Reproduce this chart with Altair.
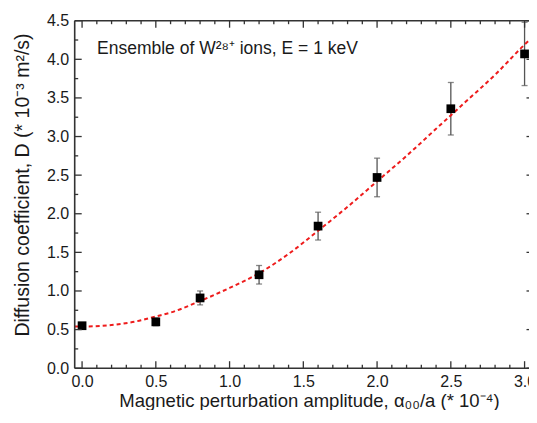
import altair as alt
import pandas as pd

# measured data
alpha = [0.0, 0.5, 0.8, 1.2, 1.6, 2.0, 2.5, 3.0]
diff = [0.55, 0.60, 0.91, 1.21, 1.84, 2.47, 3.36, 4.07]
err = [0.04, 0.05, 0.09, 0.12, 0.18, 0.25, 0.34, 0.41]

# fitted curve
fit_x = [-0.05, 0.0, 0.2, 0.4, 0.5, 0.6, 0.8, 1.0, 1.2, 1.4, 1.6, 1.8, 2.0, 2.2, 2.4, 2.6, 2.8, 3.0, 3.05]
fit_y = [0.54, 0.54, 0.56, 0.62, 0.67, 0.72, 0.87, 1.04, 1.23, 1.48, 1.78, 2.09, 2.42, 2.75, 3.10, 3.45, 3.80, 4.19, 4.28]

# tick values
x_major = [0.0, 0.5, 1.0, 1.5, 2.0, 2.5, 3.0]
x_minor = [0.1, 0.2, 0.3, 0.4, 0.6, 0.7, 0.8, 0.9, 1.1, 1.2, 1.3, 1.4, 1.6, 1.7, 1.8, 1.9,
           2.1, 2.2, 2.3, 2.4, 2.6, 2.7, 2.8, 2.9]
y_major = [0.0, 0.5, 1.0, 1.5, 2.0, 2.5, 3.0, 3.5, 4.0, 4.5]
y_minor = [0.25, 0.75, 1.25, 1.75, 2.25, 2.75, 3.25, 3.75, 4.25]

x_title = "Magnetic perturbation amplitude, α₀₀/a (* 10⁻⁴)"
y_title = "Diffusion coefficient, D (* 10⁻³ m²/s)"
annot = "Ensemble of W²⁸⁺ ions, E = 1 keV"

W, H = 454.3, 347.5
FONT = "Arial, Liberation Sans, sans-serif"
FRAME = "#333333"

xs = alt.Scale(domain=[-0.05, 3.03], nice=False, zero=False)
ys = alt.Scale(domain=[0, 4.5], nice=False, zero=False)

pts = pd.DataFrame({"a": alpha, "d": diff, "lo": [d - e for d, e in zip(diff, err)],
                    "hi": [d + e for d, e in zip(diff, err)]})
fit = pd.DataFrame({"a": fit_x, "d": fit_y})
xM = pd.DataFrame({"a": x_major})
xm = pd.DataFrame({"a": x_minor})
yM = pd.DataFrame({"d": y_major})
ym = pd.DataFrame({"d": y_minor})
one = pd.DataFrame({"k": [0]})

x_axis = alt.Axis(values=x_major, format=".1f", ticks=False, tickSize=0, domain=False, grid=False,
                  labelFontSize=16, labelPadding=5, labelColor="#1a1a1a", labelFont=FONT,
                  title=x_title, titleFont=FONT, titleFontSize=18.5, titleFontWeight="normal",
                  titleColor="#1a1a1a", titleX=234.3, titleY=38, titleAlign="center",
                  titleBaseline="alphabetic")
y_axis = alt.Axis(values=y_major, format=".1f", ticks=False, tickSize=0, domain=False, grid=False,
                  labelFontSize=16, labelPadding=6, labelColor="#1a1a1a", labelFont=FONT,
                  title=y_title, titleFont=FONT, titleFontSize=19.5, titleFontWeight="normal",
                  titleColor="#1a1a1a", titleX=-51.7, titleY=163.8, titleAngle=270,
                  titleAlign="center", titleBaseline="middle")

X = lambda f: alt.X(f, scale=xs, axis=x_axis)
Y = lambda f: alt.Y(f, scale=ys, axis=y_axis)

base_err = alt.Chart(pts).mark_rule(color="#555555", strokeWidth=1.3).encode(
    x=X("a:Q"), y=Y("lo:Q"), y2="hi:Q")
caps_lo = alt.Chart(pts).mark_tick(color="#555555", thickness=1.3, size=6, orient="horizontal").encode(
    x=X("a:Q"), y=Y("lo:Q"))
caps_hi = alt.Chart(pts).mark_tick(color="#555555", thickness=1.3, size=6, orient="horizontal").encode(
    x=X("a:Q"), y=Y("hi:Q"))

line = alt.Chart(fit).mark_line(color="#ee1c1c", strokeWidth=2, strokeDash=[4, 3],
                                interpolate="monotone", clip=True).encode(
    x=X("a:Q"), y=Y("d:Q"))

squares = alt.Chart(pts).mark_square(color="black", opacity=1, size=76, filled=True).encode(
    x=X("a:Q"), y=Y("d:Q"))


def xticks(df, length, top):
    if top:
        return alt.Chart(df).mark_rule(color=FRAME, strokeWidth=1.3).encode(
            x=X("a:Q"), y=alt.value(0), y2=alt.value(length))
    return alt.Chart(df).mark_rule(color=FRAME, strokeWidth=1.3).encode(
        x=X("a:Q"), y=alt.value(H), y2=alt.value(H - length))


def yticks(df, length, right):
    if right:
        return alt.Chart(df).mark_rule(color=FRAME, strokeWidth=1.3).encode(
            y=Y("d:Q"), x=alt.value(W), x2=alt.value(W - length))
    return alt.Chart(df).mark_rule(color=FRAME, strokeWidth=1.3).encode(
        y=Y("d:Q"), x=alt.value(0), x2=alt.value(length))


ticks = [xticks(xM, 7, False), xticks(xm, 3.5, False), xticks(xM, 7, True), xticks(xm, 3.5, True),
         yticks(yM, 7, False), yticks(ym, 3.5, False), yticks(yM, 2.5, True)]

frame = [
    alt.Chart(one).mark_rule(color=FRAME, strokeWidth=1.6).encode(
        x=alt.value(0), x2=alt.value(W), y=alt.value(0)),
    alt.Chart(one).mark_rule(color=FRAME, strokeWidth=1.6).encode(
        x=alt.value(0), x2=alt.value(W), y=alt.value(H)),
    alt.Chart(one).mark_rule(color=FRAME, strokeWidth=1.6).encode(
        x=alt.value(0), y=alt.value(0), y2=alt.value(H)),
]

label = alt.Chart(pd.DataFrame({"t": [annot]})).mark_text(
    align="left", baseline="alphabetic", fontSize=17.5, font=FONT, color="#1a1a1a").encode(
    x=alt.value(22.3), y=alt.value(33.3), text="t:N")

chart = alt.layer(base_err, caps_lo, caps_hi, line, squares, *ticks, *frame, label).properties(
    width=W, height=H,
    background="white",
    autosize=alt.AutoSizeParams(type="none"),
    padding={"left": 66.7, "top": 12.7, "right": 0, "bottom": 41.8},
).configure_view(stroke=None)

chart.save("out.html", embed_options={"renderer": "svg", "actions": False})
